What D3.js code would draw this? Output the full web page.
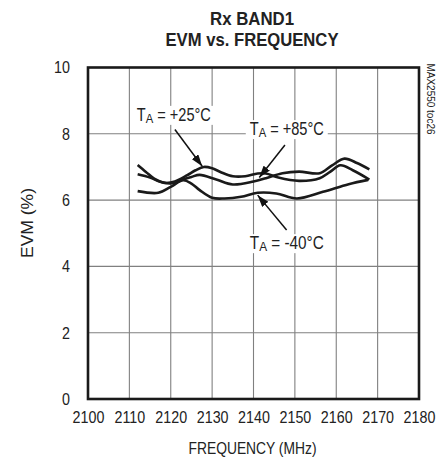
<!DOCTYPE html>
<html><head><meta charset="utf-8">
<script src="https://cdn.jsdelivr.net/npm/d3@7"></script>
<style>
body{margin:0;background:#fff;}
svg text{font-family:"Liberation Sans",Arial,sans-serif;fill:#222;}
</style></head>
<body><svg id="c" width="439" height="462"></svg>
<script>
const xTicks = [2100,2110,2120,2130,2140,2150,2160,2170,2180];
const yTicks = [0,2,4,6,8,10];
const freq25 = [2112,2114,2116,2118.5,2121,2124,2126,2128,2130,2132,2135,2138,2141,2143,2146,2151,2156,2158.5,2161,2164,2168];
const evm25  = [7.06,6.85,6.65,6.52,6.56,6.75,6.9,7.0,6.96,6.85,6.72,6.72,6.8,6.8,6.68,6.58,6.66,6.85,7.05,6.9,6.62];
const freq85 = [2112,2115,2117.5,2120,2122.5,2125,2127,2131,2135,2140,2143,2147,2151,2156,2159,2162,2165,2168];
const evm85  = [6.78,6.68,6.55,6.5,6.6,6.7,6.76,6.62,6.47,6.56,6.66,6.81,6.86,6.81,7.05,7.25,7.12,6.93];
const freqM40 = [2112,2117,2120,2123,2125,2127,2130,2133,2137,2141,2145.5,2150.5,2156.8,2163,2167.7];
const evmM40  = [6.27,6.22,6.4,6.6,6.5,6.3,6.07,6.05,6.1,6.22,6.2,6.05,6.25,6.48,6.61];
const labels = [
  {sub:"A", rest:" = +25°C", lx:2111.8, ly:8.39, tail:[2121,8.13], tip:[2127.6,7.02]},
  {sub:"A", rest:" = +85°C", lx:2139.1, ly:7.96, tail:[2147.6,7.66], tip:[2141.4,6.68]},
  {sub:"A", rest:" = -40°C", lx:2139.1, ly:4.52, tail:[2148,5.1], tip:[2141,6.15]}
];

const svg = d3.select("#c");
const x = d3.scaleLinear().domain([2100,2180]).range([88,419]);
const y = d3.scaleLinear().domain([0,10]).range([399,67.5]);

function squeeze(sel,k){ sel.each(function(){ const w=this.getComputedTextLength(); this.setAttribute("textLength",w*k); this.setAttribute("lengthAdjust","spacingAndGlyphs"); }); }
function fitW(sel,w){ sel.attr("textLength",w).attr("lengthAdjust","spacingAndGlyphs"); }

// gridlines
const g = svg.append("g");
g.selectAll(".vx").data(xTicks.slice(1,-1)).enter().append("line")
  .attr("x1",d=>x(d)).attr("x2",d=>x(d)).attr("y1",y(0)).attr("y2",y(10))
  .attr("stroke","#808080").attr("stroke-width",1.1);
g.selectAll(".hy").data(yTicks.slice(1,-1)).enter().append("line")
  .attr("y1",d=>y(d)).attr("y2",d=>y(d)).attr("x1",x(2100)).attr("x2",x(2180))
  .attr("stroke","#808080").attr("stroke-width",1.1);

// axes labels via d3 axes
const xAxis = d3.axisBottom(x).tickValues(xTicks).tickSize(0).tickPadding(8).tickFormat(d3.format("d"));
const xa = svg.append("g").attr("transform",`translate(0,${y(0)})`).call(xAxis);
xa.select(".domain").remove();
xa.selectAll("text").attr("font-size",17).attr("fill","#222").attr("dy","0.95em")
  .style("font-family",'"Liberation Sans",Arial,sans-serif');
squeeze(xa.selectAll("text"),0.84);
const yAxis = d3.axisLeft(y).tickValues(yTicks).tickSize(0).tickPadding(18);
const ya = svg.append("g").attr("transform",`translate(${x(2100)},0)`).call(yAxis);
ya.select(".domain").remove();
ya.selectAll("text").attr("font-size",17).attr("fill","#222")
  .style("font-family",'"Liberation Sans",Arial,sans-serif');
squeeze(ya.selectAll("text"),0.84);

// curves
const line = d3.line().x(d=>x(d[0])).y(d=>y(d[1])).curve(d3.curveCatmullRom.alpha(0.5));
[[freq25,evm25],[freq85,evm85],[freqM40,evmM40]].forEach(([f,e])=>{
  svg.append("path").datum(f.map((v,i)=>[v,e[i]])).attr("d",line)
    .attr("fill","none").attr("stroke","#1a1a1a").attr("stroke-width",2.6).attr("stroke-linejoin","round");
});

// labels
const defs = svg.append("defs");
defs.append("marker").attr("id","ah").attr("viewBox","0 0 12 8").attr("refX",12).attr("refY",4)
  .attr("markerWidth",12).attr("markerHeight",8).attr("markerUnits","userSpaceOnUse").attr("orient","auto")
  .append("path").attr("d","M0,0 L12,4 L0,8 Z").attr("fill","#111");
labels.forEach(l=>{
  svg.append("line").attr("x1",x(l.tail[0])).attr("y1",y(l.tail[1])).attr("x2",x(l.tip[0])).attr("y2",y(l.tip[1]))
    .attr("stroke","#111").attr("stroke-width",1.5).attr("marker-end","url(#ah)");
  const bg = svg.append("rect").attr("fill","#fff");
  const t = svg.append("text").attr("x",x(l.lx)).attr("y",y(l.ly)).attr("font-size",17.5);
  t.append("tspan").text("T");
  t.append("tspan").text(l.sub).attr("font-size",13.5).attr("dy",2);
  t.append("tspan").text(l.rest).attr("dy",-2);
  fitW(t,74);
  const b = t.node().getBBox();
  bg.attr("x",b.x-4).attr("y",b.y+1).attr("width",b.width+8).attr("height",b.height-2);
});

// frame
svg.append("rect").attr("x",x(2100)).attr("y",y(10)).attr("width",x(2180)-x(2100)).attr("height",y(0)-y(10))
  .attr("fill","none").attr("stroke","#1a1a1a").attr("stroke-width",2.6);

// titles
fitW(svg.append("text").attr("x",252).attr("y",25).attr("text-anchor","middle").attr("font-size",18.5)
  .attr("font-weight","bold").text("Rx BAND1"),84);
fitW(svg.append("text").attr("x",252).attr("y",45.7).attr("text-anchor","middle").attr("font-size",18.5)
  .attr("font-weight","bold").text("EVM vs. FREQUENCY"),173);
fitW(svg.append("text").attr("x",252.5).attr("y",454).attr("text-anchor","middle").attr("font-size",17)
  .text("FREQUENCY (MHz)"),128);
fitW(svg.append("text").attr("transform","translate(33,223) rotate(-90)").attr("text-anchor","middle").attr("font-size",17)
  .text("EVM (%)"),70);
fitW(svg.append("text").attr("transform","translate(426.5,99) rotate(90)").attr("text-anchor","middle").attr("font-size",10)
  .attr("fill","#444").text("MAX2550 toc26"),71);
</script></body></html>
